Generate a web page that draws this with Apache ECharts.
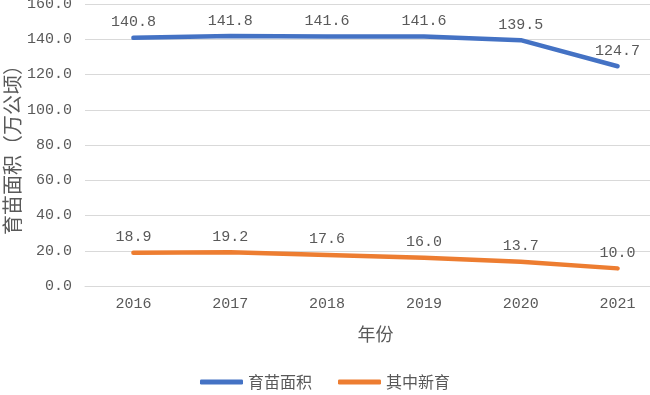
<!DOCTYPE html>
<html><head><meta charset="utf-8">
<script src="https://cdn.jsdelivr.net/npm/echarts@6/dist/echarts.min.js"></script>
<style>html,body{margin:0;padding:0;background:#fff}#c{width:650px;height:395px}</style>
</head><body><div id="c"></div>
<script>
var years = ['2016','2017','2018','2019','2020','2021'];
var seriesNames = ['育苗面积','其中新育'];
var nurseryArea = [140.8, 141.8, 141.6, 141.6, 139.5, 124.7];
var newNursery = [18.9, 19.2, 17.6, 16.0, 13.7, 10.0];
var yName = '育苗面积（万公顷）';
var xName = '年份';

var numFont = "'Liberation Mono', 'Noto Sans CJK SC', monospace";
var cjkFont = "'Noto Sans CJK SC', sans-serif";
var txt = '#595959';
var colors = ['#4472C4', '#ED7D31'];
function lbl(){return {show:true, position:'top', distance:7, color:txt, fontFamily:numFont, fontSize:15,
  formatter:function(p){return p.value.toFixed(1);}};}
var chart = echarts.init(document.getElementById('c'), null, {renderer:'canvas'});
chart.setOption({
  animation:false,
  color:colors,
  grid:{left:85, top:4, right:-16, height:282, containLabel:false, outerBoundsMode:'none'},
  legend:{bottom:0, left:'center', itemWidth:43, itemHeight:5, itemGap:26,
    icon:'roundRect',
    textStyle:{color:txt, fontFamily:cjkFont, fontSize:16},
    data:seriesNames},
  xAxis:{type:'category', data:years, boundaryGap:true,
    name:xName, nameLocation:'middle', nameGap:39, nameMoveOverlap:false,
    nameTextStyle:{color:txt, fontFamily:cjkFont, fontSize:18},
    axisLine:{lineStyle:{color:'#d9d9d9'}}, axisTick:{show:false},
    axisLabel:{color:txt, fontFamily:numFont, fontSize:15, margin:11}},
  yAxis:{type:'value', min:0, max:160, interval:20,
    name:yName, nameLocation:'middle', nameGap:63, nameRotate:90, nameMoveOverlap:false,
    nameTextStyle:{color:txt, fontFamily:cjkFont, fontSize:20},
    axisLine:{show:false}, axisTick:{show:false},
    splitLine:{lineStyle:{color:'#d9d9d9', width:1}},
    axisLabel:{color:txt, fontFamily:numFont, fontSize:15, margin:13,
      formatter:function(v){return v.toFixed(1);}}},
  series:[
    {name:seriesNames[0], type:'line', data:nurseryArea, showSymbol:true, symbol:'circle', symbolSize:2,
      lineStyle:{color:colors[0], width:4.5, cap:'round'}, itemStyle:{color:colors[0]}, label:lbl()},
    {name:seriesNames[1], type:'line', data:newNursery, showSymbol:true, symbol:'circle', symbolSize:2,
      lineStyle:{color:colors[1], width:4.5, cap:'round'}, itemStyle:{color:colors[1]}, label:lbl()}
  ]
});
</script></body></html>
